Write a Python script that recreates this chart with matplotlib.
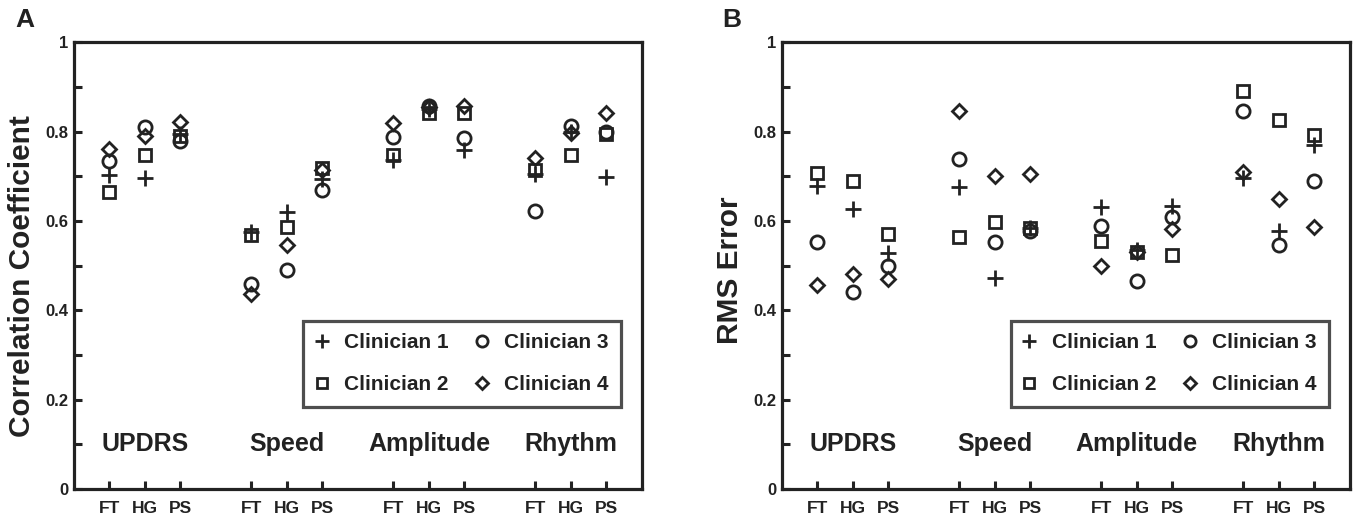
import numpy as np
import matplotlib
matplotlib.use("Agg")
import matplotlib.pyplot as plt

plt.rcParams['font.family'] = ['Liberation Sans', 'DejaVu Sans']
plt.rcParams['font.weight'] = 'bold'

groups = ["UPDRS", "Speed", "Amplitude", "Rhythm"]
tasks = ["FT", "HG", "PS"]
clinicians = ["Clinician 1", "Clinician 2", "Clinician 3", "Clinician 4"]

# correlation coefficient, order: UPDRS FT HG PS, Speed ..., Amplitude ..., Rhythm ...
corr_c1 = [0.702, 0.695, 0.795, 0.575, 0.619, 0.693, 0.737, 0.850, 0.759, 0.704, 0.800, 0.698]
corr_c2 = [0.664, 0.748, 0.790, 0.568, 0.586, 0.719, 0.748, 0.841, 0.841, 0.715, 0.748, 0.795]
corr_c3 = [0.733, 0.811, 0.780, 0.459, 0.491, 0.670, 0.788, 0.858, 0.786, 0.622, 0.813, 0.800]
corr_c4 = [0.762, 0.789, 0.822, 0.437, 0.546, 0.715, 0.819, 0.855, 0.857, 0.741, 0.797, 0.841]

# RMS error
rms_c1 = [0.679, 0.626, 0.529, 0.676, 0.472, 0.585, 0.631, 0.535, 0.633, 0.696, 0.578, 0.771]
rms_c2 = [0.707, 0.689, 0.570, 0.563, 0.598, 0.585, 0.554, 0.530, 0.524, 0.891, 0.826, 0.793]
rms_c3 = [0.553, 0.440, 0.498, 0.739, 0.552, 0.578, 0.589, 0.466, 0.609, 0.846, 0.546, 0.689]
rms_c4 = [0.457, 0.481, 0.470, 0.846, 0.700, 0.705, 0.498, 0.530, 0.583, 0.710, 0.650, 0.586]

markers = ['+', 's', 'o', 'D']
msizes = [11.5, 9, 9.5, 7]
ink = '#222222'

# x positions: 3 tasks per group, one empty slot between groups
xpos = np.array([g * 4 + t + 1 for g in range(len(groups)) for t in range(len(tasks))])
group_centers = [g * 4 + 2 for g in range(len(groups))]


def draw_panel(ax, series, ylabel, letter, label_y):
    for vals, m, ms, lab in zip(series, markers, msizes, clinicians):
        ax.plot(xpos, vals, linestyle='none', marker=m, markersize=ms,
                markerfacecolor='none', markeredgecolor=ink, markeredgewidth=2.0,
                label=lab)
    ax.set_xlim(0, 16)
    ax.set_ylim(0, 1)
    ax.set_xticks(xpos)
    ax.set_xticklabels(tasks * len(groups), fontsize=12.5, fontweight='bold', color=ink)
    yt = np.round(np.arange(0, 1.01, 0.1), 1)
    ax.set_yticks(yt)
    ax.set_yticklabels(['0' if v == 0 else '1' if v == 1 else (f'{v:.1f}' if round(v * 10) % 2 == 0 else '') for v in yt],
                       fontsize=12, fontweight='bold', color=ink)
    ax.tick_params(direction='in', length=6, width=2.2, color=ink, pad=9)
    ax.tick_params(axis='y', pad=4)
    for sp in ax.spines.values():
        sp.set_linewidth(2.3)
        sp.set_color(ink)
    for c, g in zip(group_centers, groups):
        ax.text(c, 0.1, g, ha='center', va='center', fontsize=18, fontweight='bold', color=ink)
    ax.set_ylabel(ylabel, fontsize=21.5, fontweight='bold', color=ink)
    ax.yaxis.set_label_coords(-0.067, label_y)
    leg = ax.legend(ncol=2, loc='upper left', bbox_to_anchor=(0.403, 0.376),
                    fontsize=15, frameon=True, fancybox=False, markerscale=0.85,
                    handlelength=0.6, handletextpad=0.77, columnspacing=1.3,
                    borderpad=0.6, labelspacing=1.1, borderaxespad=0)
    leg.get_frame().set_edgecolor(ink)
    leg.get_frame().set_linewidth(2.3)
    for t in leg.get_texts():
        t.set_fontweight('bold')
        t.set_color(ink)
    ax.text(-0.104, 1.049, letter, transform=ax.transAxes, fontsize=19,
            fontweight='bold', color=ink, ha='left', va='center')


fig = plt.figure(figsize=(13.6, 5.25), dpi=100)
axA = fig.add_axes([0.0544, 0.0686, 0.4176, 0.851])
axB = fig.add_axes([0.5748, 0.0686, 0.4176, 0.851])

draw_panel(axA, [corr_c1, corr_c2, corr_c3, corr_c4], "Correlation Coefficient", "A", 0.477)
draw_panel(axB, [rms_c1, rms_c2, rms_c3, rms_c4], "RMS Error", "B", 0.49)

fig.savefig("out.png", dpi=100)
